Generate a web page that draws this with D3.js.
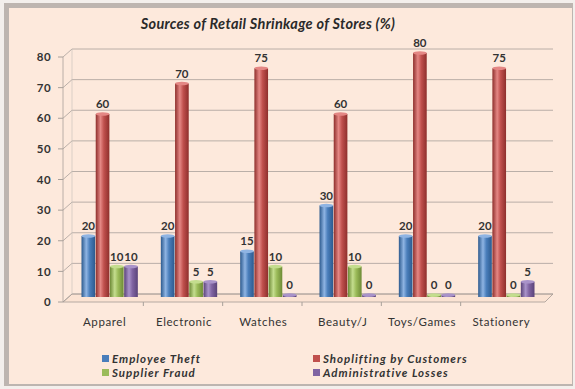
<!DOCTYPE html>
<html><head><meta charset="utf-8">
<script src="https://cdn.jsdelivr.net/npm/d3@7"></script>
<style>body{margin:0;background:#fff;}svg{display:block;}</style>
</head><body>
<svg id="c" width="575" height="389"></svg>
<script>
const categories = ["Apparel","Electronic","Watches","Beauty/J","Toys/Games","Stationery"];
const seriesNames = ["Employee Theft","Shoplifting by Customers","Supplier Fraud","Administrative Losses"];
const employeeTheft = [20,20,15,30,20,20];
const shoplifting = [60,70,75,60,80,75];
const supplierFraud = [10,5,10,10,0,0];
const adminLosses = [10,5,0,0,0,5];
const yTicks = [0,10,20,30,40,50,60,70,80];
const colors = ["#4a7ebb","#c0504d","#9bbb59","#8064a2"];
const darkColors = ["#2c5a8e","#8e2f2c","#6d8a36","#5a4379"];
const lightColors = ["#8fb4e3","#e48784","#c4dd8e","#a993c9"];
const values = [employeeTheft, shoplifting, supplierFraud, adminLosses];

const svg = d3.select("#c");
const defs = svg.append("defs");
colors.forEach((c,i)=>{
  const g = defs.append("linearGradient").attr("id","g"+i).attr("x1","0").attr("x2","1").attr("y1","0").attr("y2","0");
  g.append("stop").attr("offset","0%").attr("stop-color",darkColors[i]);
  g.append("stop").attr("offset","35%").attr("stop-color",lightColors[i]);
  g.append("stop").attr("offset","60%").attr("stop-color",c);
  g.append("stop").attr("offset","100%").attr("stop-color",darkColors[i]);
});

// frame
svg.append("rect").attr("x",0).attr("y",0).attr("width",575).attr("height",389).attr("fill","#f3efec");
svg.append("rect").attr("x",4).attr("y",3).attr("width",569).attr("height",383).attr("fill","#bdb5b0");
svg.append("rect").attr("x",9).attr("y",8).attr("width",563).attr("height",376).attr("fill","#fde9dc");

const font = "Lato, 'Open Sans', sans-serif";
svg.append("text").attr("x",268).attr("y",29).attr("text-anchor","middle")
  .attr("font-family",font).attr("font-weight","bold").attr("font-style","italic")
  .attr("font-size",14.5).attr("letter-spacing",0.3).attr("fill","#2a2a2a").text("Sources of Retail Shrinkage of Stores (%)");

const yBack = d3.scaleLinear().domain([0,80]).range([294,49]);
const yBar = d3.scaleLinear().domain([0,80]).range([297,53]);
const x0 = d3.scaleBand().domain(categories).range([70,546]).paddingInner(0.29).paddingOuter(0.145);
const x1 = d3.scaleBand().domain(seriesNames).range([0,x0.bandwidth()]).paddingInner(0.04);

// floor
svg.append("path").attr("d",`M63,302 L72,294 L553,294 L545,302 Z`).attr("fill","#fbe3d3").attr("stroke","#a39a94").attr("stroke-width",0.8);

// gridlines
const grid = svg.append("g");
yTicks.forEach(t=>{
  const yb = yBack(t);
  grid.append("path").attr("d",`M63,${yb+8} L72,${yb} L553,${yb}`).attr("fill","none").attr("stroke","#a8a09a").attr("stroke-width",0.8);
  grid.append("line").attr("x1",58).attr("x2",63).attr("y1",yb+8).attr("y2",yb+8).attr("stroke","#a8a09a");
});
svg.append("line").attr("x1",63).attr("x2",63).attr("y1",yBack(80)+8).attr("y2",302).attr("stroke","#a8a09a").attr("stroke-width",0.8);
svg.append("line").attr("x1",72).attr("x2",72).attr("y1",yBack(80)).attr("y2",294).attr("stroke","#c8bfb8").attr("stroke-width",0.6);

// y axis labels via axis
const yLab = d3.scaleLinear().domain([0,80]).range([yBack(0)+8, yBack(80)+8]);
const ax = svg.append("g").attr("transform","translate(55,0)").call(d3.axisLeft(yLab).tickValues(yTicks).tickSize(0).tickPadding(4));
ax.select(".domain").remove();
ax.selectAll("text").attr("font-family",font).attr("font-weight","bold").attr("font-size",11.5).attr("letter-spacing",0.4).attr("fill","#333");

// x ticks
categories.forEach((c,i)=>{
  if(i===0) return;
  const xb = x0(c) - x0.step()*x0.paddingInner()/2 - 6;
  svg.append("line").attr("x1",xb).attr("x2",xb).attr("y1",302).attr("y2",306).attr("stroke","#a8a09a");
});

// bars
const gBars = svg.append("g");
categories.forEach((c,ci)=>{
  seriesNames.forEach((s,si)=>{
    const v = values[si][ci];
    const bx = x0(c)+x1(s), bw = x1.bandwidth();
    const top = v>0 ? yBar(v) : yBar(0)-2;
    gBars.append("rect").attr("x",bx).attr("y",top).attr("width",bw).attr("height",yBar(0)-top).attr("fill",`url(#g${si})`);
    gBars.append("ellipse").attr("cx",bx+bw/2).attr("cy",top).attr("rx",bw/2).attr("ry",1.8).attr("fill",lightColors[si]);
    gBars.append("text").attr("x",bx+bw/2).attr("y",top-6).attr("text-anchor","middle")
      .attr("font-family",font).attr("font-weight","bold").attr("font-size",11.5).attr("fill","#333").text(v);
  });
});

// category labels
const xa = svg.append("g").attr("transform","translate(-5,319)").call(d3.axisBottom(x0).tickSize(0).tickPadding(0));
xa.select(".domain").remove();
xa.selectAll("text").attr("font-family",font).attr("font-size",11.5).attr("letter-spacing",0.6).attr("fill","#333").attr("dy","0.6em");

// legend
const legPos = [[102,359],[313,359],[102,373],[313,373]];
seriesNames.forEach((s,i)=>{
  const [lx,ly] = legPos[i];
  svg.append("rect").attr("x",lx).attr("y",ly-4).attr("width",7).attr("height",7).attr("fill",colors[i]);
  svg.append("text").attr("x",lx+10).attr("y",ly+4).attr("font-family",font).attr("font-weight","bold")
    .attr("font-style","italic").attr("font-size",11.5).attr("letter-spacing",1).attr("fill","#333").text(s);
});
</script>
</body></html>
